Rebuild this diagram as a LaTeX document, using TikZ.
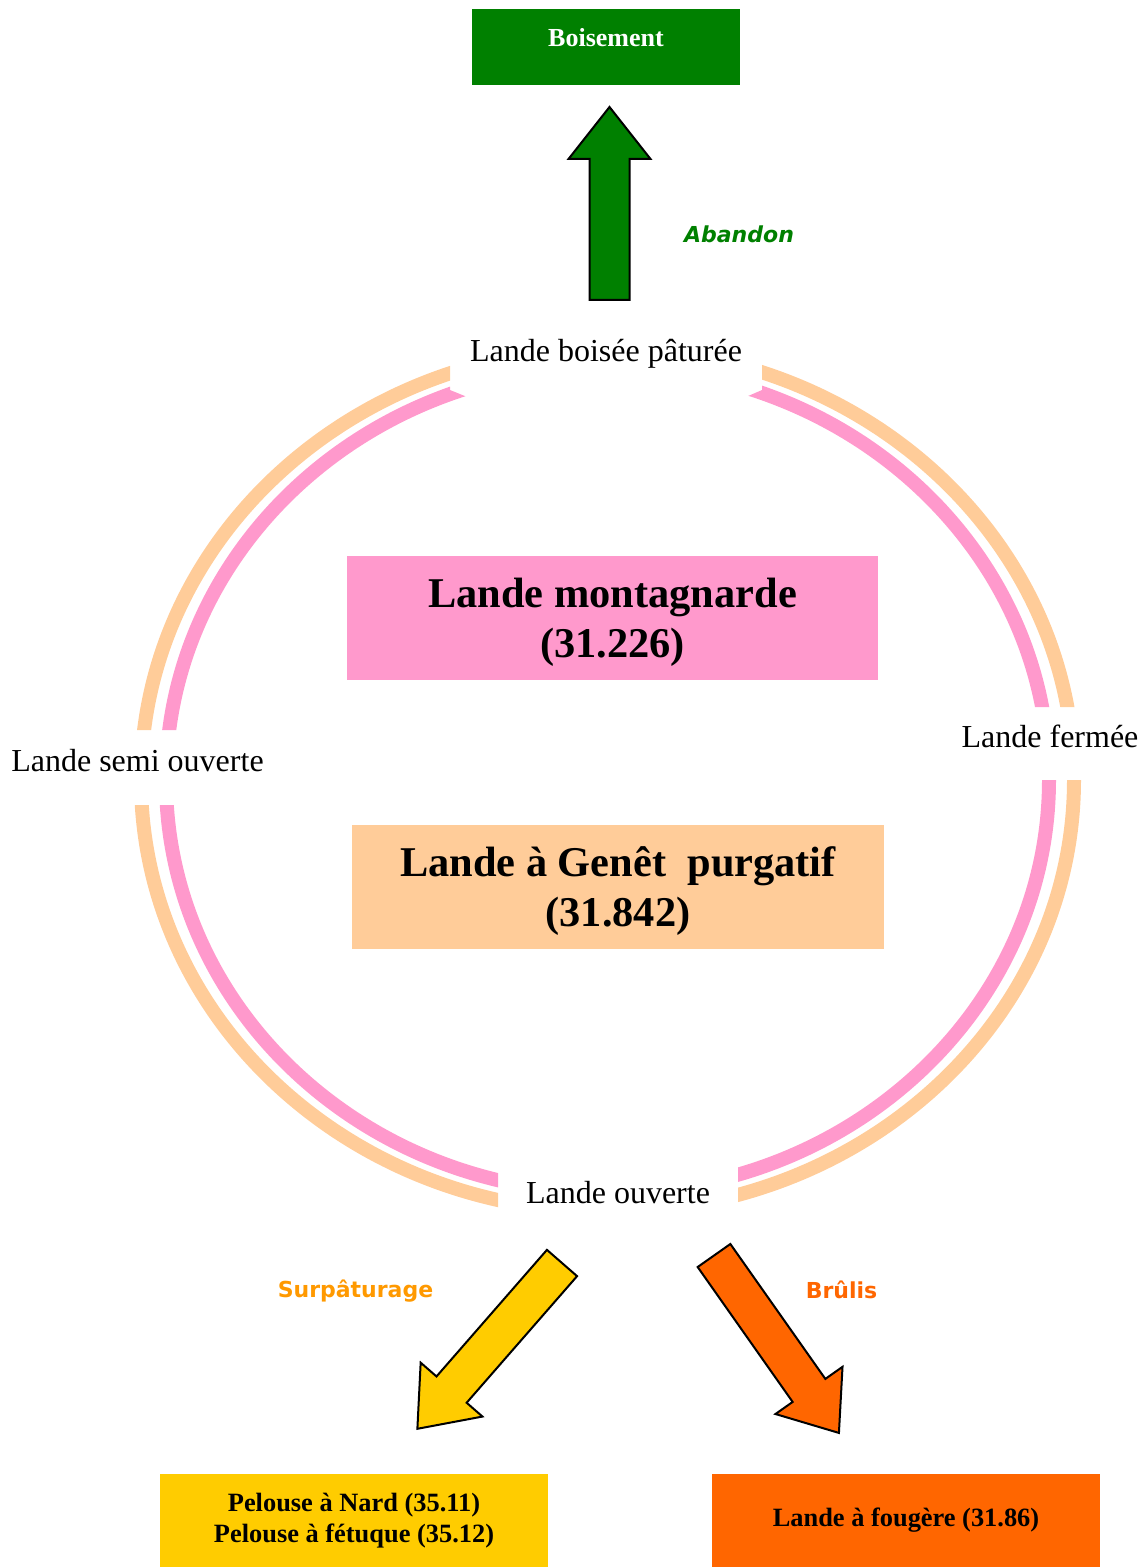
\documentclass[tikz,border=0pt]{standalone}
\usepackage{fontspec}
\setmainfont{Liberation Serif}
\newfontfamily\comicfont{DejaVu Sans}
\usepackage{tikz}

\definecolor{bois}{HTML}{008000}
\definecolor{rose}{HTML}{FF99CC}
\definecolor{peche}{HTML}{FFCC99}
\definecolor{jaune}{HTML}{FFCC00}
\definecolor{feu}{HTML}{FF6600}
\definecolor{paturage}{HTML}{FF9900}

\tikzset{habitat/.style={inner sep=0pt, align=center, font=\bfseries\fontsize{21.2}{25}\selectfont}}
\tikzset{issue/.style={inner sep=0pt, align=center, minimum width=194pt, minimum height=46.5pt,
      font=\bfseries\fontsize{13.2}{15.5}\selectfont}}
\tikzset{stade/.style={inner sep=0pt, anchor=base, font=\fontsize{16}{19}\selectfont}}
\tikzset{action/.style={inner sep=0pt, anchor=base, font=\comicfont\bfseries\fontsize{11}{13}\selectfont}}
\tikzset{anneau/.style={line width=7pt}}
\tikzset{grossefleche/.style={draw=black, line width=1pt, line join=miter}}

% tail point, angle, length, colour
\newcommand{\grossefleche}[4]{%
  \draw[grossefleche, fill=#4, shift={(#1)}, rotate=#2]
    (0,-20) -- (#3-52,-20) -- (#3-52,-41) -- (#3,0) -- (#3-52,41) -- (#3-52,20) -- (0,20) -- cycle;}
\newcommand{\hautligne}{\rule{0pt}{19.5pt}}
\newcommand{\basligne}{\rule[-4pt]{0pt}{4pt}}

\begin{document}
\begin{tikzpicture}[x=0.5pt, y=-0.5pt]
    \useasboundingbox (0,0) rectangle (1144,1567);

    % the two rings, cut where the stages are written
    \begin{scope}[even odd rule]
      \clip (0,0) rectangle (1144,1567)
        (450,320) rectangle (762,410)
        (100,730) rectangle (200,805)
        (1000,707) rectangle (1110,780)
        (498,1150) rectangle (738,1230);
      \draw[anneau, peche] (607.5,780) ellipse [x radius=466.5, y radius=432];
    \end{scope}
    \begin{scope}[even odd rule]
      \clip (0,0) rectangle (1144,1567)
        (450,320) -- (450,390) -- (482,403) -- (732,403) -- (762,390) -- (762,320) -- cycle
        (100,730) rectangle (200,805)
        (1000,707) rectangle (1110,780)
        (498,1150) rectangle (738,1230);
      \draw[anneau, rose] (607.5,780) ellipse [x radius=441.5, y radius=413];
    \end{scope}

    \node[habitat, fill=bois, text=white, minimum width=134pt, minimum height=38pt,
      font=\bfseries\fontsize{13}{15}\selectfont, text height=9.5pt, text depth=9.5pt]
      (boisement) at (606,47) {Boisement};
    \node[habitat, fill=rose, minimum width=265.5pt, minimum height=62pt]
      (montagnarde) at (612.5,618) {\hautligne Lande montagnarde\\(31.226)};
    \node[habitat, fill=peche, minimum width=266pt, minimum height=62pt]
      (genet) at (618,887) {\hautligne Lande à Genêt\ \ purgatif\\(31.842)};
    \node[issue, fill=jaune] (pelouse) at (354,1520.5) {Pelouse à Nard (35.11)\\Pelouse à fétuque (35.12)};
    \node[issue, fill=feu] (fougere) at (906,1520.5) {Lande à fougère (31.86)};

    \node[stade] (boisee) at (606,362) {Lande boisée pâturée};
    \node[stade] (semi) at (137.5,771) {Lande semi ouverte};
    \node[stade] (fermee) at (1050,747) {Lande fermée};
    \node[stade] (ouverte) at (618,1203) {Lande ouverte};

    \node[action, text=bois, font=\comicfont\bfseries\itshape\fontsize{11}{13}\selectfont]
      (abandon) at (739,243) {Abandon};
    \node[action, text=paturage] (surpaturage) at (355.5,1297) {Surpâturage};
    \node[action, text=feu] (brulis) at (841.5,1298) {Brûlis};

    \grossefleche{609.5,300}{90}{193}{bois}
    \grossefleche{562,1263}{-131.1}{220}{jaune}
    \grossefleche{714,1255.5}{-54.85}{217}{feu}
\end{tikzpicture}
\end{document}
